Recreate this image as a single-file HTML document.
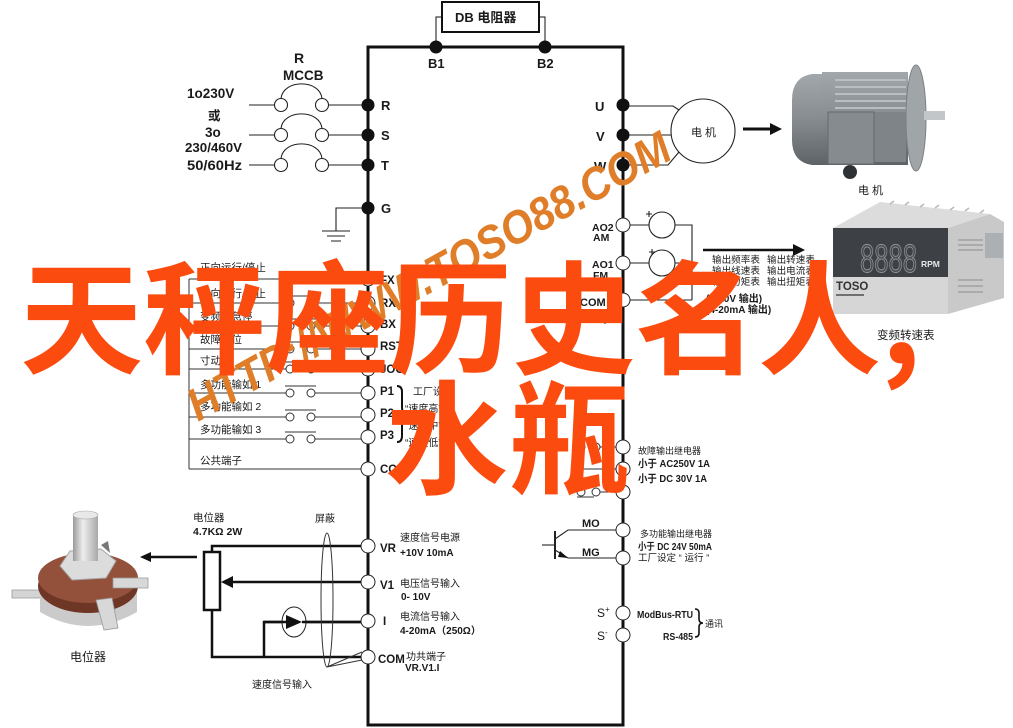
<!DOCTYPE html>
<html><head><meta charset="utf-8">
<style>
html,body{margin:0;padding:0;background:#fff;}
svg{display:block;}
text{font-family:"Liberation Sans","Noto Sans CJK SC",sans-serif;fill:#1a1a1a;}
.b{font-weight:bold;}
</style></head><body>
<svg width="1013" height="728" viewBox="0 0 1013 728" xmlns="http://www.w3.org/2000/svg">
<defs>
<linearGradient id="mg" x1="0" y1="0" x2="0" y2="1"><stop offset="0" stop-color="#a2a7ab"/><stop offset=".45" stop-color="#8a8f93"/><stop offset="1" stop-color="#5e6367"/></linearGradient>
<linearGradient id="sh" x1="0" y1="0" x2="1" y2="0"><stop offset="0" stop-color="#9a9a9a"/><stop offset=".4" stop-color="#eeeeee"/><stop offset="1" stop-color="#a8a8a8"/></linearGradient>
</defs>
<rect width="1013" height="728" fill="#fff"/>

<!-- main frame -->
<path d="M368 725 V47 H623 V725 Z" fill="none" stroke="#111" stroke-width="3"/>
<!-- DB resistor -->
<rect x="442" y="2" width="97" height="30" fill="#fff" stroke="#111" stroke-width="2"/>
<path d="M436 47 V17 H442 M545 47 V17 H539" fill="none" stroke="#111" stroke-width="1"/>
<text x="455" y="22" class="b" font-size="13">DB 电阻器</text>
<text x="428" y="68" class="b" font-size="13">B1</text>
<text x="537" y="68" class="b" font-size="13">B2</text>

<!-- MCCB inputs -->
<g stroke="#222" stroke-width="1.1" fill="#fff">
<path d="M249 105 H274.5 M328.5 105 H368 M249 135 H274.5 M328.5 135 H368 M249 165 H274.5 M328.5 165 H368" fill="none"/>
<path d="M281 98.5 C283 79 320 79 322 98.5 M281 128.5 C283 109 320 109 322 128.5 M281 158.5 C283 139 320 139 322 158.5" fill="none"/>
<circle cx="281" cy="105" r="6.5"/><circle cx="322" cy="105" r="6.5"/>
<circle cx="281" cy="135" r="6.5"/><circle cx="322" cy="135" r="6.5"/>
<circle cx="281" cy="165" r="6.5"/><circle cx="322" cy="165" r="6.5"/>
<path d="M368 208 H336 V231 M322 231 H350 M327 236 H345 M331 241 H341" fill="none"/>
</g>
<text x="294" y="63" class="b" font-size="14">R</text>
<text x="283" y="80" class="b" font-size="13.5">MCCB</text>
<text x="187" y="98" class="b" font-size="13.5">1o230V</text>
<text x="208" y="120" class="b" font-size="12.5">或</text>
<text x="205" y="137" class="b" font-size="13.5">3o</text>
<text x="185" y="152" class="b" font-size="13" textLength="57" lengthAdjust="spacingAndGlyphs">230/460V</text>
<text x="187" y="170" class="b" font-size="13.5" textLength="55" lengthAdjust="spacingAndGlyphs">50/60Hz</text>
<text x="381" y="110" class="b" font-size="13">R</text>
<text x="381" y="140" class="b" font-size="13">S</text>
<text x="381" y="170" class="b" font-size="13">T</text>
<text x="381" y="213" class="b" font-size="13">G</text>

<!-- U V W motor -->
<g stroke="#222" stroke-width="1.1" fill="none">
<path d="M623 106 H673 L679 110 M623 135 H671 M623 165 H668 L679 152"/>
<circle cx="703" cy="131" r="32" fill="#fff"/>
</g>
<text x="691" y="136" font-size="11">电 机</text>
<text x="595" y="111" class="b" font-size="13">U</text>
<text x="596" y="141" class="b" font-size="13">V</text>
<text x="594" y="171" class="b" font-size="13">W</text>
<g fill="#111">
<circle cx="436" cy="47" r="6.5"/><circle cx="545" cy="47" r="6.5"/>
<circle cx="368" cy="105" r="6.5"/><circle cx="368" cy="135" r="6.5"/><circle cx="368" cy="165" r="6.5"/><circle cx="368" cy="208" r="6.5"/>
<circle cx="623" cy="105" r="6.5"/><circle cx="623" cy="135" r="6.5"/><circle cx="623" cy="165" r="6.5"/>
</g>
<!-- motor arrow -->
<path d="M743 129 H772" stroke="#111" stroke-width="3"/>
<path d="M770 123 L782 129 L770 135 Z" fill="#111"/>

<!-- AO meters -->
<g stroke="#222" stroke-width="1.1" fill="none">
<path d="M630 225 H649 M675 225 H692 V300 M630 263 H649 M675 263 H692 M630 300 H692"/>
<circle cx="662" cy="225" r="13" fill="#fff"/>
<circle cx="662" cy="263" r="13" fill="#fff"/>
<path d="M646 214 h6 M649 211 v6 M649 252 h6 M652 249 v6"/>
</g>
<text x="592" y="231" class="b" font-size="10.5">AO2</text>
<text x="593" y="241" class="b" font-size="10.5">AM</text>
<text x="592" y="268" class="b" font-size="10.5">AO1</text>
<text x="593" y="279" class="b" font-size="10.5">FM</text>
<text x="580" y="306" class="b" font-size="11">COM</text>
<circle cx="605" cy="322" r="1.6" fill="#111"/>
<path d="M703 250 H795" stroke="#111" stroke-width="2.5"/>
<path d="M793 244 L805 250 L793 256 Z" fill="#111"/>
<text x="712" y="263" font-size="9.6">输出频率表</text><text x="767" y="263" font-size="9.6">输出转速表</text>
<text x="712" y="274" font-size="9.6">输出线速表</text><text x="767" y="274" font-size="9.6">输出电流表</text>
<text x="712" y="285" font-size="9.6">输出力矩表</text><text x="767" y="285" font-size="9.6">输出扭矩表</text>
<text x="706" y="302" class="b" font-size="10">(0-10V 输出)</text>
<text x="706" y="313" class="b" font-size="10">(4-20mA 输出)</text>

<!-- left input rows -->
<g stroke="#333" stroke-width="1" fill="none">
<path d="M189 279 V469"/>
<path d="M189 279 H286 M315 279 H361 M189 303 H286 M315 303 H361 M189 326 H286 M315 326 H361 M189 349 H286 M315 349 H361 M189 369 H286 M315 369 H361 M189 393 H286 M315 393 H361 M189 417 H286 M315 417 H361 M189 439 H286 M315 439 H361 M189 469 H361"/>
<path d="M285 272 H316 M285 296 H316 M285 319 H316 M285 342 H316 M285 362 H316 M285 386 H316 M285 410 H316 M285 432 H316"/>
</g>
<g stroke="#333" stroke-width="1" fill="#fff">
<circle cx="290" cy="279" r="4"/><circle cx="311" cy="279" r="4"/>
<circle cx="290" cy="303" r="4"/><circle cx="311" cy="303" r="4"/>
<circle cx="290" cy="326" r="4"/><circle cx="311" cy="326" r="4"/>
<circle cx="290" cy="349" r="4"/><circle cx="311" cy="349" r="4"/>
<circle cx="290" cy="369" r="4"/><circle cx="311" cy="369" r="4"/>
<circle cx="290" cy="393" r="4"/><circle cx="311" cy="393" r="4"/>
<circle cx="290" cy="417" r="4"/><circle cx="311" cy="417" r="4"/>
<circle cx="290" cy="439" r="4"/><circle cx="311" cy="439" r="4"/>
</g>
<g font-size="10.5">
<text x="200" y="271">正向运行/停止</text>
<text x="200" y="297">反向运行/停止</text>
<text x="200" y="320">变频器急停</text>
<text x="200" y="343">故障复位</text>
<text x="200" y="364">寸动</text>
<text x="200" y="388">多功能输如 1</text>
<text x="200" y="410">多功能输如 2</text>
<text x="200" y="433">多功能输如 3</text>
<text x="200" y="464">公共端子</text>
</g>
<g class="b" font-size="11.5">
<text x="380" y="284" class="b">FX</text>
<text x="380" y="307" class="b">RX</text>
<text x="380" y="328" class="b">BX</text>
<text x="380" y="350" class="b">RST</text>
<text x="380" y="373" class="b">JOG</text>
<text x="380" y="395" class="b">P1</text>
<text x="380" y="417" class="b">P2</text>
<text x="380" y="439" class="b">P3</text>
<text x="380" y="473" class="b">COM</text>
</g>
<path d="M397 386 q5 0 5 6 v15 q0 6 4 7 q-4 1 -4 7 v15 q0 6 -5 6" fill="none" stroke="#111" stroke-width="2"/>
<text x="413" y="395" font-size="10">工厂设定</text>
<text x="405" y="412" font-size="10">“速度高”</text>
<text x="405" y="429" font-size="10">“速度中”</text>
<text x="405" y="446" font-size="10">“速度低”</text>

<!-- relay right -->
<g stroke="#333" stroke-width="1" fill="none">
<path d="M573 447 H577 M600 447 H616 M573 469 H616 M573 492 H577 M600 492 H616 M577 497 H594"/>
</g>
<g stroke="#333" stroke-width="1" fill="#fff">
<circle cx="581" cy="447" r="4"/><circle cx="596" cy="447" r="4"/>
<circle cx="581" cy="492" r="4"/><circle cx="596" cy="492" r="4"/>
</g>
<text x="638" y="454" font-size="9">故障输出继电器</text>
<text x="638" y="467" class="b" font-size="10.5" textLength="72" lengthAdjust="spacingAndGlyphs">小于 AC250V 1A</text>
<text x="638" y="482" class="b" font-size="10.5" textLength="69" lengthAdjust="spacingAndGlyphs">小于 DC 30V 1A</text>

<!-- transistor MO/MG -->
<g stroke="#222" stroke-width="1.1" fill="none">
<path d="M542 545 H555"/>
<path d="M555 531 V559" stroke-width="2"/>
<path d="M555 539 L568 530 H616 M555 550 L568 558 H616"/>
</g>
<path d="M560 551 L568 558 L558 557 Z" fill="#111"/>
<text x="582" y="527" class="b" font-size="11">MO</text>
<text x="582" y="556" class="b" font-size="11">MG</text>
<text x="640" y="537" font-size="9">多功能输出继电器</text>
<text x="638" y="550" class="b" font-size="10" textLength="74" lengthAdjust="spacingAndGlyphs">小于 DC 24V 50mA</text>
<text x="638" y="561" font-size="9.5">工厂设定 “ 运行 ”</text>

<!-- S+ S- -->
<text x="597" y="617" font-size="12">S<tspan font-size="8" dy="-5">+</tspan></text>
<text x="597" y="640" font-size="12">S<tspan font-size="8" dy="-5">-</tspan></text>
<text x="637" y="618" class="b" font-size="10.5" textLength="56" lengthAdjust="spacingAndGlyphs">ModBus-RTU</text>
<text x="663" y="640" class="b" font-size="10.5" textLength="30" lengthAdjust="spacingAndGlyphs">RS-485</text>
<path d="M695 609 q4 0 4 4 v6 q0 4 4 4 q-4 0 -4 4 v6 q0 4 -4 4" fill="none" stroke="#111" stroke-width="1.6"/>
<text x="705" y="627" font-size="9">通讯</text>

<!-- bottom-left pot circuit -->
<g stroke="#111" stroke-width="2.5" fill="none">
<path d="M212 552 V546 H361"/>
<path d="M361 582 H230"/>
<path d="M212 610 V657 H361"/>
<path d="M264 657 V622 H361"/>
<rect x="204" y="552" width="16" height="58" fill="#fff"/>
<path d="M148 557 H197"/>
</g>
<path d="M221 582 L233 576 L233 588 Z" fill="#111"/>
<path d="M140 557 L151 552 L151 562 Z" fill="#111"/>
<ellipse cx="294" cy="622" rx="12" ry="15" fill="#fff" stroke="#222" stroke-width="1"/>
<path d="M264 622 H286" stroke="#111" stroke-width="2.5"/>
<path d="M286 615 L302 622 L286 629 Z" fill="#111"/>
<path d="M302 622 H361" stroke="#111" stroke-width="2.5"/>
<ellipse cx="327" cy="600" rx="6" ry="67" fill="none" stroke="#333" stroke-width="1"/>
<path d="M327 667 L362 660 M327 667 L362 652" stroke="#333" stroke-width="1" fill="none"/>
<text x="193" y="521" font-size="10.5">电位器</text>
<text x="193" y="535" class="b" font-size="10.5">4.7KΩ   2W</text>
<text x="315" y="522" font-size="10">屏蔽</text>
<text x="380" y="552" class="b" font-size="11.5">VR</text>
<text x="380" y="589" class="b" font-size="11.5">V1</text>
<text x="383" y="625" class="b" font-size="11.5">I</text>
<text x="378" y="663" class="b" font-size="11.5">COM</text>
<text x="400" y="541" font-size="10">速度信号电源</text>
<text x="400" y="556" class="b" font-size="10">+10V  10mA</text>
<text x="400" y="587" font-size="10">电压信号输入</text>
<text x="401" y="600" class="b" font-size="10">0- 10V</text>
<text x="400" y="620" font-size="10">电流信号输入</text>
<text x="400" y="634" class="b" font-size="10">4-20mA（250Ω）</text>
<text x="406" y="660" font-size="10">功共端子</text>
<text x="405" y="671" class="b" font-size="10">VR.V1.I</text>
<text x="252" y="688" font-size="10">速度信号输入</text>

<!-- open terminal circles -->
<g fill="#fff" stroke="#222" stroke-width="1">
<circle cx="368" cy="279" r="7"/><circle cx="368" cy="303" r="7"/><circle cx="368" cy="326" r="7"/><circle cx="368" cy="349" r="7"/><circle cx="368" cy="369" r="7"/><circle cx="368" cy="393" r="7"/><circle cx="368" cy="415" r="7"/><circle cx="368" cy="437" r="7"/><circle cx="368" cy="469" r="7"/>
<circle cx="368" cy="546" r="7"/><circle cx="368" cy="582" r="7"/><circle cx="368" cy="621" r="7"/><circle cx="368" cy="657" r="7"/>
<circle cx="623" cy="225" r="7"/><circle cx="623" cy="263" r="7"/><circle cx="623" cy="300" r="7"/>
<circle cx="623" cy="447" r="7"/><circle cx="623" cy="469" r="7"/><circle cx="623" cy="492" r="7"/>
<circle cx="623" cy="530" r="7"/><circle cx="623" cy="558" r="7"/>
<circle cx="623" cy="613" r="7"/><circle cx="623" cy="635" r="7"/>
</g>

<!-- motor picture -->
<g>
<path d="M826 74 H812 Q792 77 792 100 V140 Q792 162 812 165 H826 Z" fill="url(#mg)"/>
<rect x="822" y="72" width="86" height="93" fill="url(#mg)"/>
<g stroke="#b9bec1" stroke-width="2"><path d="M835 80 H906 M835 87 H906 M835 94 H906 M835 101 H906 M835 108 H906"/></g>
<rect x="874" y="112" width="32" height="50" fill="#7f8488"/>
<rect x="828" y="112" width="46" height="52" fill="#868b8f" stroke="#65696d"/>
<ellipse cx="916" cy="118" rx="10" ry="53" fill="#a0a5a8" stroke="#7c8084"/>
<rect x="924" y="111" width="21" height="9" fill="#c2c6c8"/>
<circle cx="850" cy="172" r="7" fill="#2f3235"/>
</g>
<text x="858" y="194" font-size="11">电 机</text>

<!-- meter picture -->
<g>
<polygon points="833,228 880,202 990,214 948,228" fill="#dcdcdc"/>
<g stroke="#b8b8b8" stroke-width="1.5"><path d="M890 204 l4 -3 M905 205 l4 -3 M920 207 l4 -3 M935 208 l4 -3 M950 210 l4 -3 M965 211 l4 -3 M980 213 l4 -3"/></g>
<polygon points="948,228 990,214 1004,222 1004,298 948,314" fill="#c9c9c9"/>
<g stroke="#8d8d8d" stroke-width="1"><path d="M958 240 h25 M958 245 h25 M958 250 h25 M958 280 h25 M958 286 h25 M958 292 h25"/></g>
<rect x="985" y="233" width="18" height="25" fill="#aab0b3"/>
<rect x="833" y="228" width="115" height="86" fill="#d6d6d6"/>
<rect x="833" y="228" width="115" height="49" fill="#3d4146"/>
<text x="860" y="272" font-size="40" textLength="57" lengthAdjust="spacingAndGlyphs" style="fill:#4a4e53" stroke="#8f949a" stroke-width="1">8888</text>
<text x="921" y="267" class="b" font-size="8.5" style="fill:#e6e6e6">RPM</text>
<text x="836" y="290" class="b" font-size="11.5" style="fill:#333">TOSO</text>
<path d="M836 295 H864" stroke="#333" stroke-width="1.2"/>
</g>
<text x="877" y="339" font-size="11.5">变频转速表</text>

<!-- potentiometer picture -->
<g>
<path d="M12 590 H42 V598 H12 Z" fill="#d4d4d4" stroke="#999" stroke-width=".8"/>
<path d="M40 588 V612 Q88 640 137 612 V588 Z" fill="#cbcbcb"/>
<ellipse cx="88" cy="586" rx="50" ry="27" fill="#6e3625"/>
<ellipse cx="88" cy="578" rx="50" ry="25" fill="#93503a"/>
<path d="M113 578 H148 V588 H113 Z" fill="#d8d8d8" stroke="#999" stroke-width=".8"/>
<path d="M96 600 L112 598 L118 628 L104 630 Z" fill="#d8d8d8" stroke="#999" stroke-width=".8"/>
<polygon points="60,566 70,551 101,549 116,561 106,578 72,580" fill="#dcdcdc" stroke="#a5a5a5"/>
<rect x="73" y="515" width="25" height="46" fill="url(#sh)"/>
<ellipse cx="85.5" cy="515" rx="12.5" ry="4" fill="#e8e8e8" stroke="#aaa" stroke-width=".6"/>
<path d="M101 545 L108 541 L110 553 Z" fill="#777"/>
</g>
<text x="70" y="661" font-size="12">电位器</text>

<!-- watermark -->
<text transform="translate(198,422) rotate(-29)" x="0" y="0" font-size="46" font-style="italic" class="b" textLength="545" lengthAdjust="spacingAndGlyphs" style="fill:#e07d28">HTTP://WWW.TOSO88.COM</text>

<!-- big overlay text -->
<text x="20" y="364" font-size="123" font-weight="bold" style="font-family:'Noto Sans CJK SC','WenQuanYi Zen Hei',sans-serif;fill:#fc4b0e">天秤座历史名人,</text>
<text x="385" y="484" font-size="123" font-weight="bold" style="font-family:'Noto Sans CJK SC','WenQuanYi Zen Hei',sans-serif;fill:#fc4b0e">水瓶</text>
</svg>
</body></html>
